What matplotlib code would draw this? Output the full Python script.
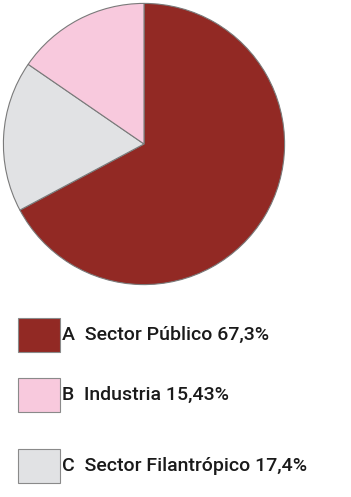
import matplotlib.pyplot as plt
from matplotlib.patches import Rectangle

# slices in drawing order (clockwise from top)
letters = ['A', 'C', 'B']
names = ['Sector Público', 'Sector Filantrópico', 'Industria']
shares = [67.3, 17.4, 15.43]
labels = ['67,3%', '17,4%', '15,43%']
colors = ['#922924', '#e1e2e4', '#f8c9dd']

# legend order as printed under the pie
legend_order = [0, 2, 1]

W, H = 351, 497
fig = plt.figure(figsize=(W / 100, H / 100), dpi=100)

ax = fig.add_axes([2 / W, (H - 286) / H, 284 / W, 284 / H])
ax.pie(shares, colors=colors, startangle=90, counterclock=False,
       wedgeprops=dict(edgecolor='#7a7a7a', linewidth=0.8))
ax.set_xlim(-1.01, 1.01)
ax.set_ylim(-1.01, 1.01)
ax.set_aspect('equal')
ax.axis('off')

# legend rows: box top y in pixels
box_tops = [318, 378, 449]
for row, i in enumerate(legend_order):
    top = box_tops[row]
    fig.add_artist(Rectangle((18 / W, (H - top - 34) / H), 42 / W, 34 / H,
                             transform=fig.transFigure, facecolor=colors[i],
                             edgecolor='#8a8a8a', linewidth=0.8))
    fig.text(62 / W, (H - top - 17) / H,
             f'{letters[i]}  {names[i]} {labels[i]}',
             fontsize=14, family='Roboto', fontweight='medium',
             color='#1a1a1a', va='center', ha='left')

fig.savefig('out.png', dpi=100)
